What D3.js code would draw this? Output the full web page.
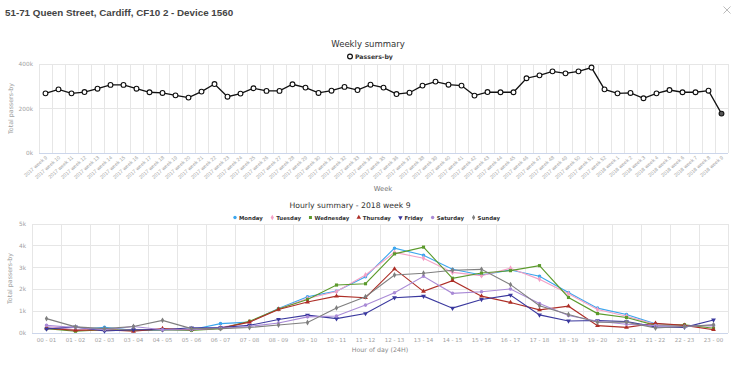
<!DOCTYPE html>
<html>
<head>
<meta charset="utf-8">
<script src="https://cdn.jsdelivr.net/npm/d3@7"></script>
<style>
  html, body { margin: 0; padding: 0; background: #fff; }
  svg { display: block; }
</style>
</head>
<body>
<svg id="chart" width="739" height="367"></svg>
<script>
// ---------- DATA ----------
const weekLabels = [
  "2017 week 9","2017 week 10","2017 week 11","2017 week 12","2017 week 13","2017 week 14","2017 week 15",
  "2017 week 16","2017 week 17","2017 week 18","2017 week 19","2017 week 20","2017 week 21","2017 week 22",
  "2017 week 23","2017 week 24","2017 week 25","2017 week 26","2017 week 27","2017 week 28","2017 week 29",
  "2017 week 30","2017 week 31","2017 week 32","2017 week 33","2017 week 34","2017 week 35","2017 week 36",
  "2017 week 37","2017 week 38","2017 week 39","2017 week 40","2017 week 41","2017 week 42","2017 week 43",
  "2017 week 44","2017 week 45","2017 week 46","2017 week 47","2017 week 48","2017 week 49","2017 week 50",
  "2017 week 51","2017 week 52","2018 week 1","2018 week 2","2018 week 3","2018 week 4","2018 week 5",
  "2018 week 6","2018 week 7","2018 week 8","2018 week 9"
];
const weeklyPassers = [
  268000,286000,268000,274000,289000,306000,306000,289000,273000,270000,259000,249000,276000,310000,
  253000,267000,291000,279000,279000,309000,294000,270000,280000,297000,283000,307000,294000,265000,
  271000,303000,321000,307000,303000,258000,274000,273000,273000,336000,349000,367000,358000,367000,
  384000,286000,268000,270000,246000,268000,283000,273000,273000,280000,177000
];
const weeklyTicks = [0, 200000, 400000];

const hourLabels = [
  "00 - 01","01 - 02","02 - 03","03 - 04","04 - 05","05 - 06","06 - 07","07 - 08","08 - 09","09 - 10",
  "10 - 11","11 - 12","12 - 13","13 - 14","14 - 15","15 - 16","16 - 17","17 - 18","18 - 19","19 - 20",
  "20 - 21","21 - 22","22 - 23","23 - 00"
];
const dayNames = ["Monday","Tuesday","Wednesday","Thursday","Friday","Saturday","Sunday"];
const monday    = [250,150,260,120,150,150,430,500,1120,1660,1920,2580,3890,3570,2920,2660,2890,2600,1860,1140,850,420,330,340];
const tuesday   = [300,150,150,150,150,150,250,500,1100,1580,1900,2660,3700,3430,2780,2630,2970,2460,1800,1080,770,400,330,320];
const wednesday = [200,80,150,120,150,120,200,540,1100,1540,2200,2260,3630,3940,2510,2750,2860,3090,1630,890,710,350,380,220];
const thursday  = [220,120,150,80,200,150,220,500,1080,1420,1690,1620,2940,1910,2400,1690,1400,1060,1230,340,260,450,350,150];
const friday    = [180,280,90,150,150,240,250,350,620,820,660,890,1620,1690,1140,1540,1740,830,550,570,520,280,260,600];
const saturday  = [350,250,150,300,150,150,220,300,460,740,780,1280,1850,2600,1820,1890,2020,1350,800,540,400,340,300,370];
const sunday    = [660,280,200,300,580,200,200,250,370,480,1150,1660,2660,2740,2880,2920,2220,1250,850,490,500,230,300,380];
const hourlyTicks = [0,1000,2000,3000,4000,5000];

const dayColors = ["#3ba6ee","#f4a0c6","#5b9a2c","#ad2e26","#3a389e","#a98ad6","#7f7f7f"];
const daySymbols = ["circle","diamond","square","triangle","triangle-down","circle","diamond"];

// ---------- SETUP ----------
const svg = d3.select("#chart");
const FONT = "'DejaVu Sans', 'Lucida Grande', Arial, sans-serif";
const TICKFONT = "'Liberation Sans', Arial, sans-serif";
const gridColor = "#e6e6e6";
const axisLineColor = "#ccd6eb";
const tickTextColor = "#a0a0a0";

// Page header
svg.append("text")
  .attr("x", 5).attr("y", 16)
  .attr("font-family", "'Liberation Sans', Arial, sans-serif")
  .attr("font-weight", "bold").attr("font-size", 9.8)
  .attr("fill", "#444")
  .text("51-71 Queen Street, Cardiff, CF10 2 - Device 1560");

// close X
const cx = 727, cy = 10;
svg.append("path")
  .attr("d", `M${cx-3.5},${cy-3.5}L${cx+3.5},${cy+3.5}M${cx+3.5},${cy-3.5}L${cx-3.5},${cy+3.5}`)
  .attr("stroke", "#bbb").attr("stroke-width", 1);

function symbolPath(name, size) {
  const map = {
    "circle": d3.symbolCircle, "diamond": d3.symbolDiamond, "square": d3.symbolSquare,
    "triangle": d3.symbolTriangle, "triangle-down": d3.symbolTriangle
  };
  return d3.symbol().type(map[name]).size(size)();
}
function symbolTransform(name, x, y) {
  return name === "triangle-down" ? `translate(${x},${y}) rotate(180)` : `translate(${x},${y})`;
}

// ---------- WEEKLY CHART ----------
{
  const x = d3.scaleBand().domain(weekLabels).range([39, 728]).padding(0);
  const y = d3.scaleLinear().domain([0, 400000]).range([153, 64]);
  const g = svg.append("g");

  const bounds = weekLabels.map(w => x(w)).concat([x.range()[1]]);
  g.selectAll("line.vg").data(bounds).enter().append("line")
    .attr("x1", d => d).attr("x2", d => d).attr("y1", y(400000)).attr("y2", y(0))
    .attr("stroke", gridColor).attr("stroke-width", 1).attr("shape-rendering", "crispEdges");
  g.selectAll("line.hg").data(weeklyTicks).enter().append("line")
    .attr("x1", 39).attr("x2", 728).attr("y1", d => y(d)).attr("y2", d => y(d))
    .attr("stroke", d => d === 0 ? axisLineColor : gridColor).attr("stroke-width", 1)
    .attr("shape-rendering", "crispEdges");

  g.selectAll("text.yt").data(weeklyTicks).enter().append("text")
    .attr("x", 33).attr("y", d => y(d) + 2)
    .attr("text-anchor", "end").attr("font-family", FONT).attr("font-size", 5.8)
    .attr("fill", tickTextColor).text(d => (d / 1000) + "k");

  g.selectAll("text.xt").data(weekLabels).enter().append("text")
    .attr("transform", d => `translate(${x(d) + x.bandwidth() / 2 + 2},${y(0) + 5}) rotate(-42)`)
    .attr("text-anchor", "end").attr("font-family", TICKFONT).attr("font-size", 5.1)
    .attr("fill", tickTextColor).text(d => d);

  g.append("text")
    .attr("transform", `translate(13,${(y(0) + y(400000)) / 2}) rotate(-90)`)
    .attr("text-anchor", "middle").attr("font-family", FONT).attr("font-size", 6.3)
    .attr("fill", tickTextColor).text("Total passers-by");
  g.append("text")
    .attr("x", 383).attr("y", 190.5).attr("text-anchor", "middle")
    .attr("font-family", FONT).attr("font-size", 6.8).attr("fill", "#777").text("Week");

  g.append("text")
    .attr("x", 368).attr("y", 47).attr("text-anchor", "middle")
    .attr("font-family", FONT).attr("font-size", 8.5).attr("fill", "#333").text("Weekly summary");

  g.append("circle").attr("cx", 350).attr("cy", 56.5).attr("r", 2.4)
    .attr("fill", "#fff").attr("stroke", "#111").attr("stroke-width", 1.2);
  g.append("text").attr("x", 355).attr("y", 59).attr("font-family", FONT)
    .attr("font-size", 6.2).attr("font-weight", "bold").attr("fill", "#333").text("Passers-by");

  const line = d3.line().x((d, i) => x(weekLabels[i]) + x.bandwidth() / 2).y(d => y(d));
  g.append("path").datum(weeklyPassers).attr("d", line)
    .attr("fill", "none").attr("stroke", "#111").attr("stroke-width", 1.3);
  g.selectAll("circle.pt").data(weeklyPassers).enter().append("circle")
    .attr("cx", (d, i) => x(weekLabels[i]) + x.bandwidth() / 2).attr("cy", d => y(d))
    .attr("r", 2.4)
    .attr("fill", (d, i) => i === weeklyPassers.length - 1 ? "#555" : "#fff")
    .attr("stroke", "#111").attr("stroke-width", 1.1);
}

// ---------- HOURLY CHART ----------
{
  const x = d3.scaleBand().domain(hourLabels).range([32, 728]).padding(0);
  const y = d3.scaleLinear().domain([0, 5000]).range([333, 224]);
  const g = svg.append("g");
  const series = [monday, tuesday, wednesday, thursday, friday, saturday, sunday];

  const bounds = hourLabels.map(h => x(h)).concat([x.range()[1]]);
  g.selectAll("line.vg").data(bounds).enter().append("line")
    .attr("x1", d => d).attr("x2", d => d).attr("y1", y(5000)).attr("y2", y(0))
    .attr("stroke", gridColor).attr("stroke-width", 1).attr("shape-rendering", "crispEdges");
  g.selectAll("line.hg").data(hourlyTicks).enter().append("line")
    .attr("x1", 32).attr("x2", 728).attr("y1", d => y(d)).attr("y2", d => y(d))
    .attr("stroke", d => d === 0 ? axisLineColor : gridColor).attr("stroke-width", 1)
    .attr("shape-rendering", "crispEdges");

  g.selectAll("text.yt").data(hourlyTicks).enter().append("text")
    .attr("x", 26).attr("y", d => y(d) + 2)
    .attr("text-anchor", "end").attr("font-family", FONT).attr("font-size", 5.8)
    .attr("fill", tickTextColor).text(d => (d / 1000) + "k");

  g.selectAll("text.xt").data(hourLabels).enter().append("text")
    .attr("x", d => x(d) + x.bandwidth() / 2).attr("y", 342)
    .attr("text-anchor", "middle").attr("font-family", FONT).attr("font-size", 5.5)
    .attr("fill", tickTextColor).text(d => d);

  g.append("text")
    .attr("transform", `translate(12,${(y(0) + y(5000)) / 2}) rotate(-90)`)
    .attr("text-anchor", "middle").attr("font-family", FONT).attr("font-size", 6.3)
    .attr("fill", tickTextColor).text("Total passers-by");
  g.append("text")
    .attr("x", 380).attr("y", 351.5).attr("text-anchor", "middle")
    .attr("font-family", FONT).attr("font-size", 6.3).attr("fill", "#888").text("Hour of day (24H)");

  g.append("text")
    .attr("x", 350).attr("y", 208).attr("text-anchor", "middle")
    .attr("font-family", FONT).attr("font-size", 7.7).attr("fill", "#333")
    .text("Hourly summary - 2018 week 9");

  // legend: laid out to span the same width as the reference
  const legendLeft = 233, legendRight = 500, legendY = 217.5;
  const items = dayNames.map((name, i) => {
    const gi = g.append("g");
    gi.append("path").attr("d", symbolPath(daySymbols[i], 9))
      .attr("transform", symbolTransform(daySymbols[i], 2, legendY))
      .attr("fill", dayColors[i]);
    const t = gi.append("text").attr("x", 6).attr("y", legendY + 2.1)
      .attr("font-family", FONT).attr("font-size", 5.4).attr("font-weight", "bold")
      .attr("fill", "#333").text(name);
    return { gi, w: 6 + t.node().getComputedTextLength() };
  });
  const totalW = d3.sum(items, d => d.w);
  const gap = (legendRight - legendLeft - totalW) / (items.length - 1);
  let cur = legendLeft;
  items.forEach(it => { it.gi.attr("transform", `translate(${cur},0)`); cur += it.w + gap; });

  const line = d3.line().x((d, i) => x(hourLabels[i]) + x.bandwidth() / 2).y(d => y(d));
  series.forEach((vals, si) => {
    g.append("path").datum(vals).attr("d", line)
      .attr("fill", "none").attr("stroke", dayColors[si]).attr("stroke-width", 1.1);
    g.selectAll(null).data(vals).enter().append("path")
      .attr("d", symbolPath(daySymbols[si], 10))
      .attr("transform", (d, i) => symbolTransform(daySymbols[si], x(hourLabels[i]) + x.bandwidth() / 2, y(d)))
      .attr("fill", dayColors[si]);
  });
}
</script>
</body>
</html>
